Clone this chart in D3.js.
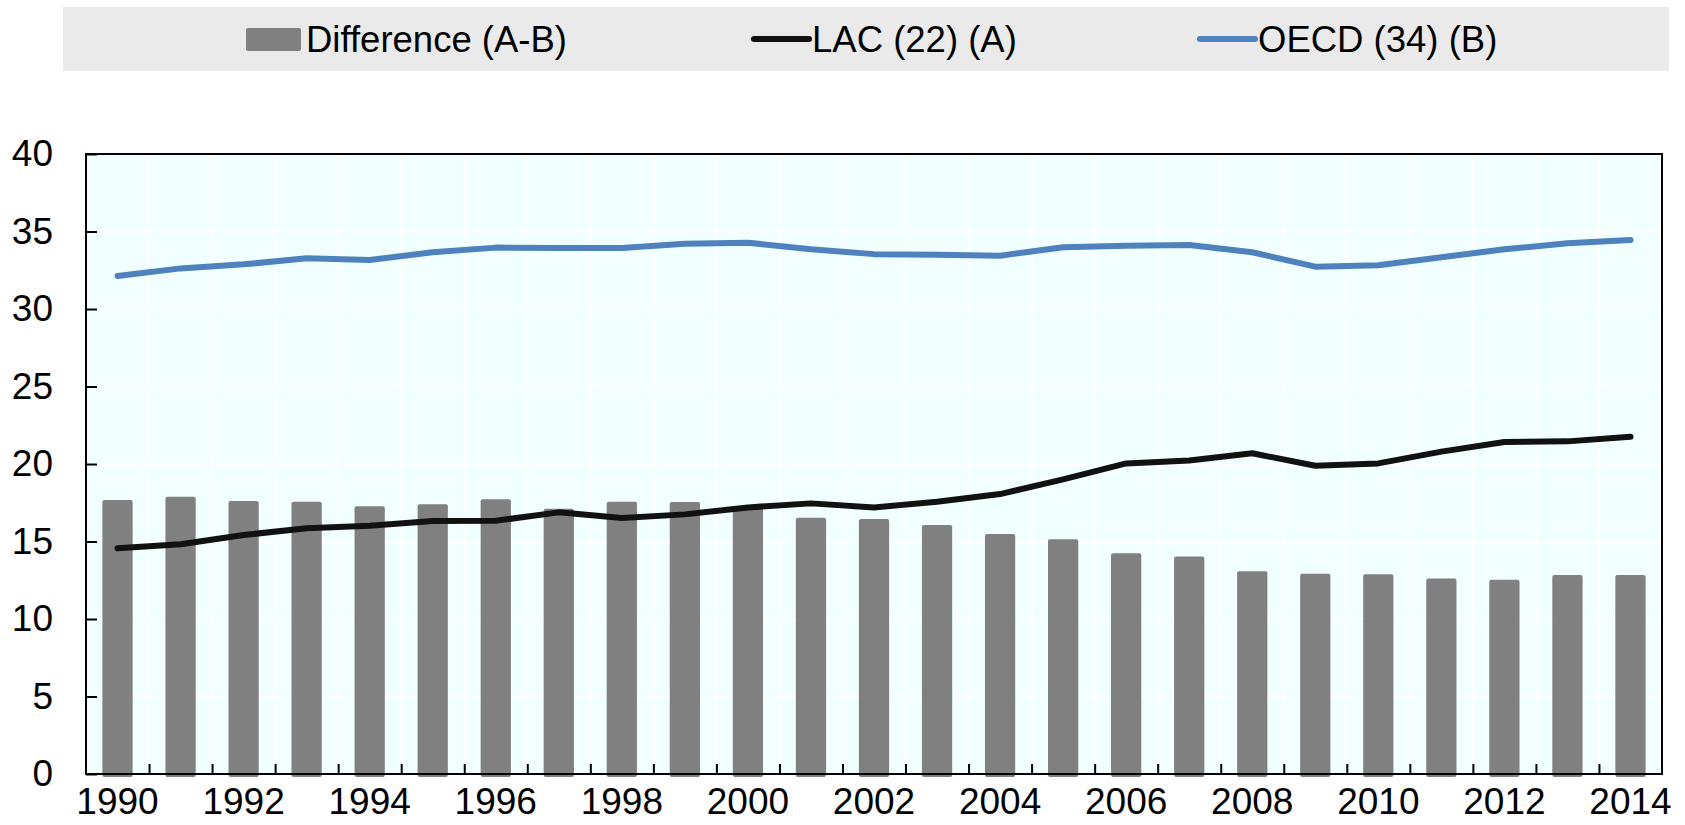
<!DOCTYPE html>
<html>
<head>
<meta charset="utf-8">
<script src="https://cdn.jsdelivr.net/npm/d3@7"></script>
<style>
  body { margin: 0; background: #fff; }
  text { font-family: "Liberation Sans", Arial, sans-serif; }
</style>
</head>
<body>
<script>
// years on the x axis
const years = d3.range(1990, 2015);
const yearLabels = years.filter(d => d % 2 === 0);
const yTicks = [0, 5, 10, 15, 20, 25, 30, 35, 40];

// LAC (22) (A)
const lac = [14.56, 14.82, 15.42, 15.85, 16.02, 16.32, 16.34, 16.88, 16.52, 16.75,
             17.2, 17.46, 17.2, 17.57, 18.06, 19.01, 20.04, 20.23, 20.69, 19.89,
             20.04, 20.8, 21.42, 21.46, 21.76];
// OECD (34) (B)
const oecd = [32.13, 32.62, 32.88, 33.27, 33.16, 33.66, 33.96, 33.94, 33.94, 34.21,
              34.28, 33.85, 33.54, 33.5, 33.44, 33.98, 34.08, 34.13, 33.66, 32.73,
              32.82, 33.34, 33.85, 34.24, 34.45];
// Difference (A-B), plotted as magnitude
const diff = [17.68, 17.89, 17.61, 17.57, 17.27, 17.4, 17.72, 17.12, 17.57, 17.55,
              17.15, 16.54, 16.45, 16.06, 15.48, 15.14, 14.24, 14.04, 13.08, 12.92,
              12.88, 12.62, 12.54, 12.84, 12.84];

const legendItems = [
    {label: "Difference (A-B)", type: "bar", color: "#808080", x: 246},
    {label: "LAC (22) (A)", type: "line", color: "#111111", x: 752},
    {label: "OECD (34) (B)", type: "line", color: "#4F81BD", x: 1198}
];

const width = 1685, height = 825;
const margin = {top: 154, right: 23, bottom: 51, left: 86};
const fontSize = 37;

const svg = d3.select("body").append("svg")
    .attr("width", width)
    .attr("height", height)
    .attr("viewBox", [0, 0, width, height]);

// legend
svg.append("rect")
    .attr("x", 63).attr("y", 7)
    .attr("width", 1606).attr("height", 64)
    .attr("fill", "#EAEAEA");

const leg = svg.append("g").selectAll("g")
    .data(legendItems)
    .join("g")
    .attr("transform", d => `translate(${d.x},0)`);

leg.filter(d => d.type === "bar").append("rect")
    .attr("x", 0).attr("y", 28)
    .attr("width", 55).attr("height", 23)
    .attr("rx", 2)
    .attr("fill", d => d.color);

leg.filter(d => d.type === "line").append("line")
    .attr("x1", 2).attr("x2", 57)
    .attr("y1", 39).attr("y2", 39)
    .attr("stroke", d => d.color)
    .attr("stroke-width", 6)
    .attr("stroke-linecap", "round");

leg.append("text")
    .attr("x", 60)
    .attr("y", 52)
    .attr("font-size", 36.5)
    .attr("fill", "#000")
    .text(d => d.label);

// scales
const x = d3.scaleBand()
    .domain(years)
    .range([margin.left, width - margin.right])
    .paddingInner(0.52)
    .paddingOuter(0.26);

const xb = d3.scaleLinear()
    .domain([0, years.length])
    .range([margin.left, width - margin.right]);

const y = d3.scaleLinear()
    .domain([0, 40])
    .range([height - margin.bottom, margin.top]);

// plot background
svg.append("rect")
    .attr("x", margin.left).attr("y", margin.top)
    .attr("width", width - margin.left - margin.right)
    .attr("height", height - margin.top - margin.bottom)
    .attr("fill", "#F2FFFF");

// grid
svg.append("g")
    .selectAll("line")
    .data(yTicks.slice(1, -1))
    .join("line")
    .attr("x1", margin.left).attr("x2", width - margin.right)
    .attr("y1", d => y(d)).attr("y2", d => y(d))
    .attr("stroke", "#fff").attr("stroke-width", 2);

svg.append("g")
    .selectAll("line")
    .data(d3.range(1, years.length))
    .join("line")
    .attr("x1", d => xb(d)).attr("x2", d => xb(d))
    .attr("y1", margin.top).attr("y2", height - margin.bottom)
    .attr("stroke", "#fff").attr("stroke-width", 2);

// bars
svg.append("g")
    .selectAll("rect")
    .data(diff)
    .join("rect")
    .attr("x", (d, i) => x(years[i]))
    .attr("y", d => y(d))
    .attr("width", x.bandwidth())
    .attr("height", d => y(0) - y(d) + 3)
    .attr("rx", 2)
    .attr("fill", "#808080");

// lines
const line = d3.line()
    .x((d, i) => x(years[i]) + x.bandwidth() / 2)
    .y(d => y(d));

svg.append("path")
    .datum(lac)
    .attr("fill", "none")
    .attr("stroke", "#111111")
    .attr("stroke-width", 6)
    .attr("stroke-linecap", "round")
    .attr("stroke-linejoin", "round")
    .attr("d", line);

svg.append("path")
    .datum(oecd)
    .attr("fill", "none")
    .attr("stroke", "#4F81BD")
    .attr("stroke-width", 6)
    .attr("stroke-linecap", "round")
    .attr("stroke-linejoin", "round")
    .attr("d", line);

// frame
svg.append("rect")
    .attr("x", margin.left).attr("y", margin.top)
    .attr("width", width - margin.left - margin.right)
    .attr("height", height - margin.top - margin.bottom)
    .attr("fill", "none")
    .attr("stroke", "#000")
    .attr("stroke-width", 2);

// y axis
svg.append("g")
    .attr("transform", `translate(${margin.left},0)`)
    .call(d3.axisLeft(y).tickValues(yTicks).tickSize(-11).tickPadding(33))
    .call(g => g.select(".domain").remove())
    .call(g => g.selectAll(".tick line").attr("stroke", "#000").attr("stroke-width", 2))
    .call(g => g.selectAll(".tick text")
        .attr("font-size", fontSize)
        .attr("font-family", "Liberation Sans, Arial, sans-serif")
        .attr("fill", "#000"));

// x axis: boundary ticks
svg.append("g")
    .attr("transform", `translate(0,${height - margin.bottom})`)
    .call(d3.axisBottom(xb).tickValues(d3.range(1, years.length)).tickSize(-10).tickFormat(""))
    .call(g => g.select(".domain").remove())
    .call(g => g.selectAll(".tick line").attr("stroke", "#000").attr("stroke-width", 2));

// x axis labels
svg.append("g")
    .attr("transform", `translate(0,${height - margin.bottom})`)
    .call(d3.axisBottom(x).tickValues(yearLabels).tickSize(0).tickPadding(14))
    .call(g => g.select(".domain").remove())
    .call(g => g.selectAll(".tick text")
        .attr("font-size", fontSize)
        .attr("font-family", "Liberation Sans, Arial, sans-serif")
        .attr("fill", "#000"));
</script>
</body>
</html>
